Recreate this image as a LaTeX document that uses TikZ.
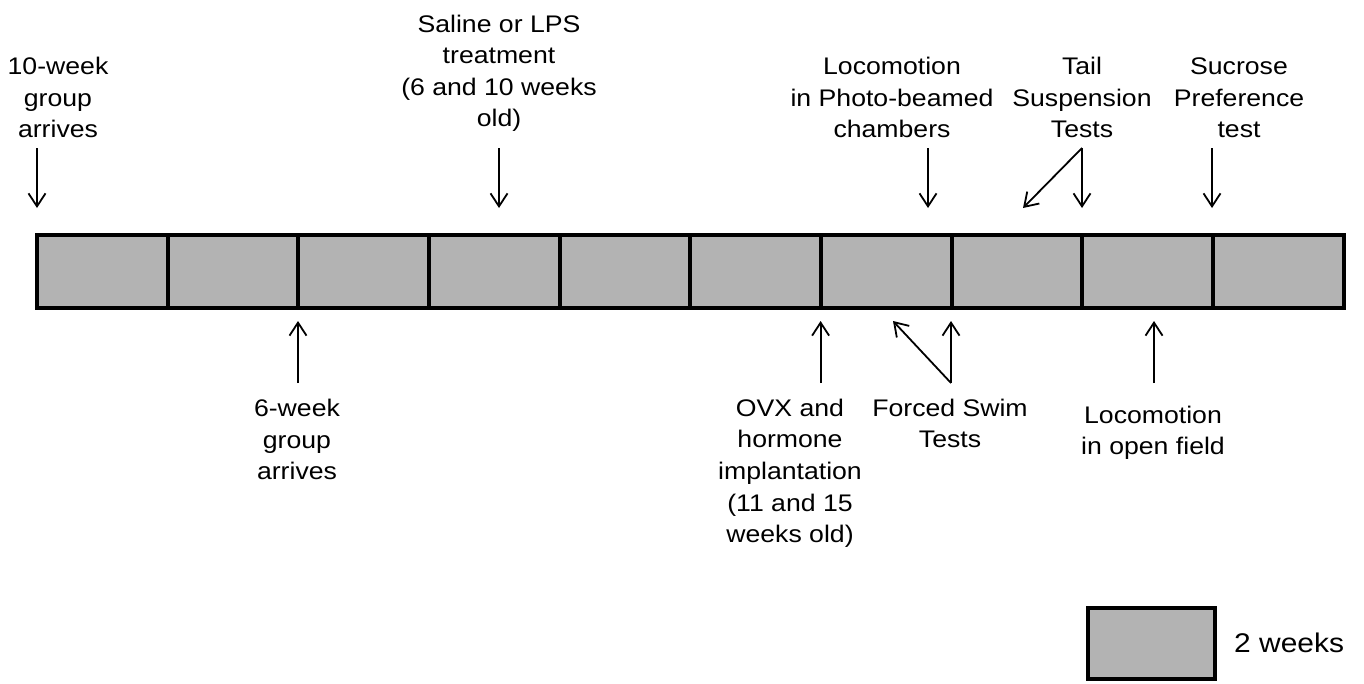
\documentclass[tikz,border=0pt]{standalone}
\usepackage{fontspec}
\setmainfont{Liberation Sans}[FakeStretch=1.11]
\usetikzlibrary{arrows.meta}
\definecolor{cellgray}{RGB}{179,179,179}
\begin{document}
\begin{tikzpicture}[x=1pt,y=-1pt,
  cell/.style={draw=black, fill=cellgray, line width=4pt, minimum width=130.65pt,
               minimum height=73pt, inner sep=0pt, outer sep=0pt},
  lbl/.style={font=\fontsize{24}{31.6}\selectfont, align=center, inner sep=0pt},
  arr/.style={line width=1.8pt, -{Straight Barb[length=13pt,width=17pt]}}]
\useasboundingbox (0,0) rectangle (1364,683);
% timeline cells
\foreach \i in {1,...,10}
  \node[cell] (c\i) at ({37+130.65*(\i-0.5)},271.5) {};
% labels above
\node[lbl] (l10w) at (58,97.8) {10-week\\group\\arrives};
\node[lbl] (lsal) at (499,73.3) {Saline or LPS\\treatment\\(6 and 10 weeks\\old)};
\node[lbl] (lloc) at (892,97.8) {Locomotion\\in Photo-beamed\\chambers};
\node[lbl] (ltail) at (1082,97.8) {Tail\\Suspension\\Tests};
\node[lbl] (lsuc) at (1239,97.8) {Sucrose\\Preference\\test};
% labels below
\node[lbl] (l6w) at (297,439.8) {6-week\\group\\arrives};
\node[lbl] (lovx) at (790,473.3) {OVX and\\hormone\\implantation\\(11 and 15\\weeks old)};
\node[lbl] (lfst) at (950,423.3) {Forced Swim\\Tests};
\node[lbl] (lopen) at (1153,432.8) {Locomotion\\in open field};
% legend
\node[cell, minimum width=127pt, minimum height=71pt] (leg) at (1151.5,643.5) {};
\node[lbl, anchor=west, font=\fontsize{27}{32}\selectfont] (legtxt) at (1234,643) {2 weeks};
% arrow end points
\coordinate (a1s) at (37,148);   \coordinate (a1e) at (37,208);
\coordinate (a2s) at (499,148);  \coordinate (a2e) at (499,208);
\coordinate (a3s) at (928,148);  \coordinate (a3e) at (928,208);
\coordinate (a4s) at (1082,148); \coordinate (a4e) at (1082,208);
\coordinate (a4d) at (1023,208);
\coordinate (a5s) at (1212,148); \coordinate (a5e) at (1212,208);
\coordinate (b1s) at (298,383);  \coordinate (b1e) at (298,321);
\coordinate (b2s) at (820.6,383); \coordinate (b2e) at (820.6,321);
\coordinate (b3s) at (951,383);  \coordinate (b3e) at (951,321);
\coordinate (b3d) at (893,321);
\coordinate (b4s) at (1154,383); \coordinate (b4e) at (1154,321);
% arrows
\draw[arr] (a1s) -- (a1e);
\draw[arr] (a2s) -- (a2e);
\draw[arr] (a3s) -- (a3e);
\draw[arr] (a4s) -- (a4e);
\draw[arr] (a4s) -- (a4d);
\draw[arr] (a5s) -- (a5e);
\draw[arr] (b1s) -- (b1e);
\draw[arr] (b2s) -- (b2e);
\draw[arr] (b3s) -- (b3e);
\draw[arr] (b3s) -- (b3d);
\draw[arr] (b4s) -- (b4e);
\end{tikzpicture}
\end{document}
